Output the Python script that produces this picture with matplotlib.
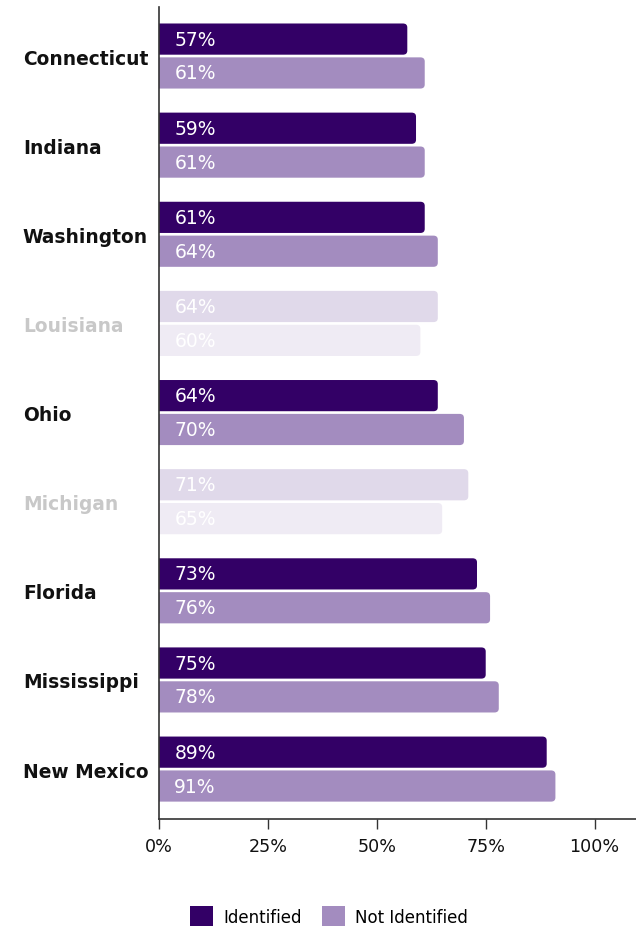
import matplotlib
matplotlib.use('Agg')
import matplotlib.pyplot as plt
from matplotlib.patches import FancyBboxPatch, Patch

states = ['Connecticut', 'Indiana', 'Washington', 'Louisiana', 'Ohio',
          'Michigan', 'Florida', 'Mississippi', 'New Mexico']
identified = [57, 59, 61, 64, 64, 71, 73, 75, 89]
not_identified = [61, 61, 64, 60, 70, 65, 76, 78, 91]
highlight = [True, True, True, False, True, False, True, True, True]
x_ticks = [0, 25, 50, 75, 100]
x_tick_labels = ['0%', '25%', '50%', '75%', '100%']

DARK = '#330066'
LIGHT = '#a38cbf'
DARK_FADED = '#e0d9ea'
LIGHT_FADED = '#efebf4'
plt.rcParams['font.family'] = ['DejaVu Sans']

fig = plt.figure(figsize=(6.36, 9.28), dpi=100)
ax = fig.add_axes([159 / 636, 1 - 820 / 928, 1 - 159 / 636, 812 / 928])

ypos = list(range(len(states)))
off = 0.19
h = 0.35


def rounded(bars, colors):
    # swap the plain bars for ones with rounded ends
    for b, c in zip(bars, colors):
        b.set_visible(False)
        p = FancyBboxPatch((b.get_x() - 2, b.get_y()), b.get_width() + 2, b.get_height(),
                           boxstyle='round,pad=0,rounding_size=1.0',
                           mutation_aspect=0.045, fc=c, ec='none', clip_on=True)
        ax.add_patch(p)


c1 = [DARK if hl else DARK_FADED for hl in highlight]
c2 = [LIGHT if hl else LIGHT_FADED for hl in highlight]
b1 = ax.barh([y - off for y in ypos], identified, height=h)
b2 = ax.barh([y + off for y in ypos], not_identified, height=h)
rounded(b1, c1)
rounded(b2, c2)

for y, v1, v2 in zip(ypos, identified, not_identified):
    for yy, v in ((y - off, v1), (y + off, v2)):
        ax.annotate(f'{v}%', (0, yy), xytext=(11, 0), textcoords='offset points',
                    ha='left', va='center', color='white', fontsize=13.5)

ax.set_xlim(0, 109.5)
ax.set_ylim(len(states) - 1 + 0.56, -0.55)
ax.set_xticks(x_ticks)
ax.set_xticklabels(x_tick_labels)
ax.set_yticks(ypos)
ax.set_yticklabels(states)
for lab, hl in zip(ax.get_yticklabels(), highlight):
    lab.set_ha('left')
    lab.set_fontweight('bold')
    lab.set_fontsize(13.4)
    lab.set_color('#111111' if hl else '#c8c8c8')

ax.tick_params(axis='y', length=0, pad=98)
ax.tick_params(axis='x', length=7, width=1, color='#333333', labelsize=12.6, pad=6,
               labelcolor='#111111')
for s in ['top', 'right']:
    ax.spines[s].set_visible(False)
for s in ['left', 'bottom']:
    ax.spines[s].set_color('#333333')
    ax.spines[s].set_linewidth(1.2)

handles = [Patch(fc=DARK, ec='none', label='Identified'),
           Patch(fc=LIGHT, ec='none', label='Not Identified')]
fig.legend(handles=handles, loc='center', bbox_to_anchor=(329 / 636, 1 - 917 / 928),
           ncol=2, frameon=False, fontsize=12, handlelength=1.4, handleheight=1.4,
           handletextpad=0.6, columnspacing=1.2)

fig.savefig('out.png', dpi=100)
